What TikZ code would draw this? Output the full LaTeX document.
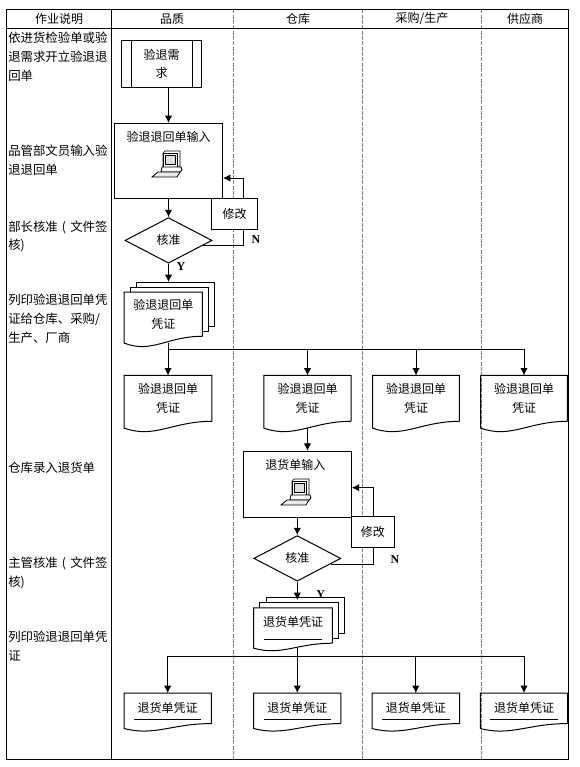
\documentclass[tikz,border=0pt]{standalone}
\usepackage{fontspec}
\setmainfont{Noto Sans CJK SC}
\newfontfamily\latinfont{Liberation Serif}
\usetikzlibrary{positioning,calc,shapes.geometric,arrows.meta}
\tikzset{
	my line/.style = {-, line width=.75pt, black},
	my edge/.style = {-{Latex[length=5.5pt,width=5.5pt]}, line width=.75pt, black},
	my sep/.style = {-, line width=.6pt, gray, dash pattern=on 3pt off 1pt},% the lanes
	my size/.style 2 args = {minimum width=#1*.75pt, minimum height=#2*.75pt},
	my text/.style = {inner sep=0pt, align=center, font=\fontsize{9}{14}\selectfont},
	my note/.style = {inner sep=0pt, anchor=north west, align=left, font=\fontsize{9.3}{14}\selectfont},
	my box/.style = {rectangle, draw, fill=white, line width=.75pt, my text},
	my doc/.style = {rectangle, my text},
	my dia/.style = {diamond, draw, line width=.75pt, inner sep=0pt, my text},
	my mark/.style = {inner sep=0pt, font=\latinfont\fontsize{9}{10}\selectfont\bfseries},
	computer/.pic = {
		\draw[line width=.4pt, fill=white] (-3,-13) -- (12,-13) -- (12,3) -- (-5,3) -- (-5,-11) -- cycle;
		\draw[line width=.5pt, fill=white] (-5,-11) rectangle (9,3);
		\draw[line width=.4pt, fill=black!12] (-3,-9) rectangle (7,0);
		\draw[line width=.6pt, fill=white] (-6,3) -- (13,3) -- (14,6) -- (12,8) -- (-7,8) -- cycle;
		\draw[line width=.6pt, fill=black!8] (-10,8) -- (12,8) -- (9,13) -- (-16,13) -- cycle;
	}
}
% document outline under a node, #1 is the depth of the wave
\newcommand{\mywave}[2]{
	\draw[my line] (#2.south east) -- (#2.north east) -- (#2.north west) -- ($(#2.south west)+(0,.62*#1)$)
		.. controls ($(#2.south west)!.35!(#2.south east)+(0,1.6*#1)$) and ($(#2.south west)!.55!(#2.south east)$) .. (#2.south east);
	\coordinate (#2 foot) at ($(#2.south)+(0,.6*#1)$);
}
% the two sheets behind a document
\newcommand{\mysheets}[1]{
	\draw[my line] ($(#1.north west)+(6,0)$) -- ++(0,-5) -- ($(#1.north east)+(6,-5)$) -- ($(#1.south east)+(6,-5)$) -- ++(-6,0);
	\draw[my line] ($(#1.north west)+(12.5,-5)$) -- ++(0,-5) -- ($(#1.north east)+(12.5,-10)$) -- ($(#1.south east)+(12.5,-10)$) -- ++(-6.5,0);
}
\newcommand{\myrule}[1]{
	\draw[my line] ($(#1.south west)+(10,-4)$) -- ($(#1.south east)+(-10,-4)$);
}
\newcommand{\mypar}{\makebox[1em]{(}}

\begin{document}
\begin{tikzpicture}[x=.75pt,y=-.75pt]
	\useasboundingbox (0,0) rectangle (580,767);
	% table
	\draw[my sep] (233.5,9.5) -- (233.5,759);
	\draw[my sep] (362.5,9.5) -- (362.5,759);
	\draw[my sep] (481.5,9.5) -- (481.5,759);
	\draw[my line] (6.5,9.5) rectangle (568.5,759);
	\draw[my line] (6.5,29) -- (568.5,29);
	\draw[my line] (111,9.5) -- (111,759);
	\node[my text] (head0) at (59,19) {作业说明};
	\node[my text] (head1) at (172,19) {品质};
	\node[my text] (head2) at (298,19) {仓库};
	\node[my text] (head3) at (422,19) {采购/生产};
	\node[my text] (head4) at (525,19) {供应商};
	% left column
	\node[my note] (note1) at (8,32) {依进货检验单或验\\退需求开立验退退\\回单};
	\node[my note] (note2) at (8,145) {品管部文员输入验\\退退回单};
	\node[my note] (note3) at (8,220.5) {部长核准\mypar 文件签\\核)};
	\node[my note] (note4) at (8,294) {列印验退退回单凭\\证给仓库、采购/\\生产、厂商};
	\node[my note] (note5) at (8,462) {仓库录入退货单};
	\node[my note] (note6) at (8,557) {主管核准\mypar 文件签\\核)};
	\node[my note] (note7) at (8,631) {列印验退退回单凭\\证};
	% first part
	\node[my box, my size={80}{47}, align=center] (demand) at (161.5,64) {验退需\\求};
	\draw[my line] (demand.north west) ++(10,0) -- ($(demand.south west)+(10,0)$);
	\draw[my line] (demand.north east) ++(-10,0) -- ($(demand.south east)+(-10,0)$);
	\node[my box, my size={108}{74.5}] (input1) at (168.5,160.75) {};
	\node[my text] (input1 text) [below=6pt of input1.north] {验退退回单输入};
	\pic at (168,164) {computer};
	\node[my dia, my size={87}{45.5}] (check1) [below=14pt of input1] {核准};
	\node[my box, my size={46}{31}] (fix1) at (234.5,213.5) {修改};
	\node[my mark] (n1) at (256,240) {N};
	\node[my mark] (y1) at (181,267) {Y};
	\node[my doc, my size={77.5}{43.5}] (stack1) at (163.25,314.25) {验退退回单\\凭证};
	\mywave{11}{stack1}
	\mysheets{stack1}
	\node[my doc, my size={87}{45.3}] (doc1) at (168,398.4) {验退退回单\\凭证};
	\node[my doc, my size={86.7}{45.3}] (doc2) at (307.5,398.4) {验退退回单\\凭证};
	\node[my doc, my size={86.3}{45.3}] (doc3) at (416,398.4) {验退退回单\\凭证};
	\node[my doc, my size={86}{45.3}] (doc4) at (524,398.4) {验退退回单\\凭证};
	\mywave{11}{doc1}
	\mywave{11}{doc2}
	\mywave{11}{doc3}
	\mywave{11}{doc4}
	\coordinate (bus1) at (168,349);
	\draw[my edge] (input1.north |- demand.south) -- (input1.north);
	\draw[my edge] (input1) -- (check1);
	\draw[my line] ($(check1.east)+(-10,5.5)$) coordinate (from1) -| (fix1.south -| 243.5,0);
	\draw[my edge] (fix1.north -| 243.5,0) |- (input1.east |- 0,178);
	\draw[my edge] (check1) -- (check1 |- 0,282);
	\draw[my line] (stack1 foot -| check1) -- (bus1 -| check1);
	\draw[my line] (bus1) -- (bus1 -| doc4);
	\draw[my edge] (bus1) -- (doc1.north);
	\draw[my edge] (bus1 -| doc2) -- (doc2.north);
	\draw[my edge] (bus1 -| doc3) -- (doc3.north);
	\draw[my edge] (bus1 -| doc4) -- (doc4.north);
	% second part
	\node[my box, my size={108}{66}] (input2) at (297.3,484.3) {};
	\node[my text, xshift=-1.5pt] (input2 text) [below=6pt of input2.north] {退货单输入};
	\pic at (297,492) {computer};
	\node[my dia, my size={87}{45.5}] (check2) [below=13pt of input2] {核准};
	\node[my box, my size={43}{31}] (fix2) at (372.8,531.8) {修改};
	\node[my mark] (n2) at (395,560) {N};
	\node[my mark] (y2) at (320.7,595) {Y};
	\node[my doc, my size={78}{34.7}, text depth=6pt] (stack2) at (293,625.6) {退货单凭证};
	\mywave{8}{stack2}
	\mysheets{stack2}
	\myrule{stack2}
	\node[my doc, my size={86.7}{30}] (slip1) at (167.7,708.3) {退货单凭证};
	\node[my doc, my size={86.7}{30}] (slip2) at (297.3,708.3) {退货单凭证};
	\node[my doc, my size={87}{30}] (slip3) at (415.8,708.3) {退货单凭证};
	\node[my doc, my size={86.7}{30}] (slip4) at (524,708.3) {退货单凭证};
	\mywave{8}{slip1}
	\mywave{8}{slip2}
	\mywave{8}{slip3}
	\mywave{8}{slip4}
	\myrule{slip1}
	\myrule{slip2}
	\myrule{slip3}
	\myrule{slip4}
	\coordinate (bus2) at (167.7,656);
	\draw[my edge] (doc2 foot) -- (doc2 foot |- input2.north);
	\draw[my edge] (input2.south -| check2) -- (check2.north);
	\draw[my line] ($(check2.east)+(-10,6)$) coordinate (from2) -| (fix2.south -| 373.3,0);
	\draw[my edge] (fix2.north -| 373.3,0) |- (input2.east |- 0,487.7);
	\draw[my edge] (check2) -- (check2 |- 0,600);
	\draw[my line] (stack2 foot -| check2) -- (bus2 -| check2);
	\draw[my line] (bus2) -- (bus2 -| slip4);
	\draw[my edge] (bus2) -- (slip1.north);
	\draw[my edge] (bus2 -| slip2) -- (slip2.north);
	\draw[my edge] (bus2 -| slip3) -- (slip3.north);
	\draw[my edge] (bus2 -| slip4) -- (slip4.north);
\end{tikzpicture}
\end{document}
